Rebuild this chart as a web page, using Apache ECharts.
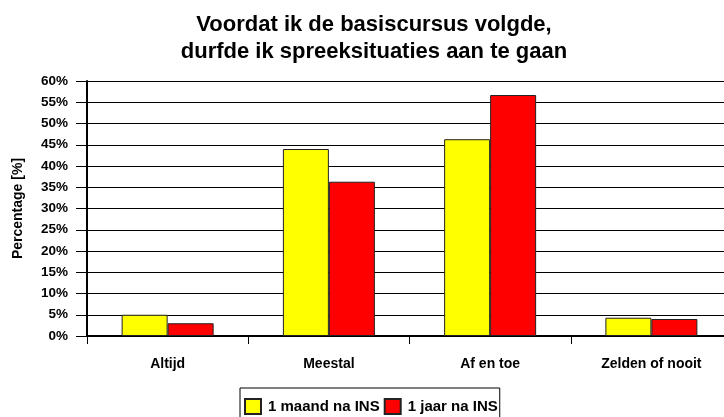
<!DOCTYPE html>
<html>
<head>
<meta charset="utf-8">
<script src="https://cdn.jsdelivr.net/npm/echarts@6/dist/echarts.min.js"></script>
<style>
  html, body { margin: 0; padding: 0; background: #fff; }
  #chart { width: 724px; height: 417px; }
</style>
</head>
<body>
<div id="chart"></div>
<script>
// antwoordcategorieen en percentages per meetmoment
const categories = ['Altijd', 'Meestal', 'Af en toe', 'Zelden of nooit'];
const maandNaIns = [5.0, 44.0, 46.3, 4.3];
const jaarNaIns = [3.0, 36.3, 56.7, 4.0];
const seriesNames = ['1 maand na INS', '1 jaar na INS'];

const font = 'Liberation Sans, Arial, sans-serif';

const chart = echarts.init(document.getElementById('chart'));

const option = {
  animation: false,
  textStyle: { fontFamily: font },
  title: {
    text: 'Voordat ik de basiscursus volgde,\ndurfde ik spreeksituaties aan te gaan',
    left: 369,
    top: 6,
    textAlign: 'center',
    textStyle: {
      fontFamily: font,
      fontSize: 22,
      fontWeight: 'bold',
      color: '#000',
      lineHeight: 27,
    },
  },
  grid: {
    left: 87,
    right: -8,
    top: 81,
    bottom: 81,
    containLabel: false,
    outerBoundsMode: 'none',
  },
  legend: {
    data: seriesNames,
    left: 240,
    top: 388,
    padding: [10, 2, 8, 4],
    itemWidth: 16,
    itemHeight: 15,
    itemGap: 4,
    borderColor: '#000',
    borderWidth: 1,
    borderRadius: 0,
    icon: 'rect',
    textStyle: {
      fontFamily: font,
      fontSize: 15,
      fontWeight: 'bold',
      color: '#000',
      padding: [0, 0, 0, 2],
    },
  },
  xAxis: {
    type: 'category',
    data: categories,
    axisLine: { lineStyle: { color: '#000', width: 2 } },
    axisTick: { show: true, length: 8, lineStyle: { color: '#000', width: 1 } },
    axisLabel: {
      margin: 21,
      fontFamily: font,
      fontSize: 14,
      fontWeight: 'bold',
      color: '#000',
    },
  },
  yAxis: {
    type: 'value',
    min: 0,
    max: 60,
    interval: 5,
    name: 'Percentage [%]',
    nameLocation: 'middle',
    nameGap: 62,
    nameTextStyle: {
      fontFamily: font,
      fontSize: 14,
      fontWeight: 'bold',
      color: '#000',
    },
    axisLine: { show: true, lineStyle: { color: '#000', width: 2 } },
    axisTick: { show: true, length: 11, lineStyle: { color: '#000' } },
    axisLabel: {
      formatter: '{value}%',
      margin: 19,
      fontFamily: font,
      fontSize: 13.5,
      fontWeight: 'bold',
      color: '#000',
    },
    splitLine: { lineStyle: { color: '#000', width: 1 } },
  },
  series: [
    {
      name: seriesNames[0],
      type: 'bar',
      data: maandNaIns,
      barWidth: 46,
      barGap: '0%',
      itemStyle: { color: '#FFFF00', borderColor: '#222', borderWidth: 1 },
    },
    {
      name: seriesNames[1],
      type: 'bar',
      data: jaarNaIns,
      barWidth: 46,
      itemStyle: { color: '#FF0000', borderColor: '#222', borderWidth: 1 },
    },
  ],
};

chart.setOption(option, true);
</script>
</body>
</html>
